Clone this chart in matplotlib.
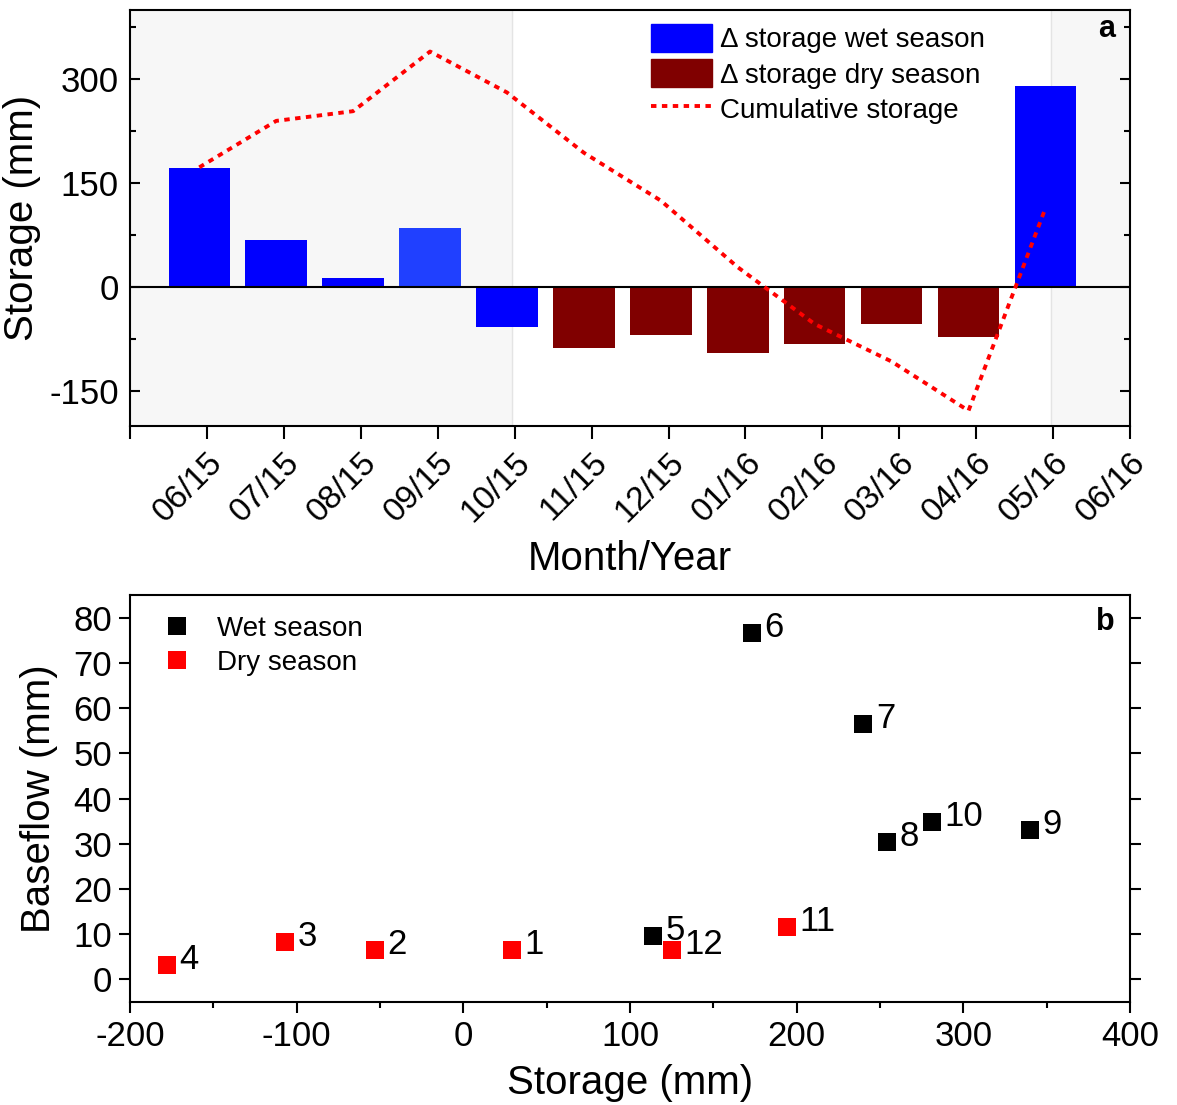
import matplotlib
matplotlib.use('Agg')
import matplotlib.pyplot as plt
from matplotlib.patches import Patch
from matplotlib.lines import Line2D
from matplotlib.ticker import MultipleLocator

plt.rcParams['font.family'] = ['Liberation Sans', 'DejaVu Sans']
plt.rcParams['axes.unicode_minus'] = False

# monthly water balance, June 2015 - May 2016
months = ['06/15', '07/15', '08/15', '09/15', '10/15', '11/15', '12/15',
          '01/16', '02/16', '03/16', '04/16', '05/16', '06/16']
month_num = [6, 7, 8, 9, 10, 11, 12, 1, 2, 3, 4, 5]
delta_storage = [172, 68, 14, 86, -57, -88, -69, -95, -82, -53, -72, 291]
cum_storage = [173, 240, 254, 340, 281, 194, 125, 29, -53, -107, -178, 114]
baseflow = [76.7, 56.4, 30.3, 33.1, 34.9, 11.5, 6.6, 6.4, 6.4, 8.2, 3.1, 9.5]
wet = [True, True, True, True, True, False, False, False, False, False, False, True]

blue = '#0000ff'
maroon = '#800000'
bar_colors = [blue, blue, blue, '#2040ff', blue, maroon, maroon, maroon,
              maroon, maroon, maroon, blue]
dots = (0, (1.4, 1.4))

fig = plt.figure(figsize=(11.77, 11.05), dpi=100)
ax1 = fig.add_axes([0.1105, 0.6145, 0.8496, 0.3765])
ax2 = fig.add_axes([0.1105, 0.0932, 0.8496, 0.3683])

# ---- a: monthly storage change ----
xpos = [i + 0.9 for i in range(len(delta_storage))]
ax1.axvspan(0, 4.96, color='#f7f7f7', zorder=0)
ax1.axvspan(11.97, 13, color='#f7f7f7', zorder=0)
ax1.axvline(4.96, color='#e4e4e4', lw=1, zorder=0.5)
ax1.axvline(11.97, color='#e4e4e4', lw=1, zorder=0.5)
ax1.bar(xpos, delta_storage, width=0.8, color=bar_colors, zorder=2)
ax1.axhline(0, color='black', lw=1.5, zorder=3)
ax1.plot(xpos, cum_storage, color='red', lw=2.8, ls=dots, zorder=4)

ax1.set_xlim(0, 13)
ax1.set_ylim(-200, 400)
ax1.set_xticks(range(14))
ax1.set_xticklabels([''] + months, rotation=45, ha='right', rotation_mode='anchor',
                    fontsize=24)
ax1.tick_params(axis='x', direction='out', length=9, width=1.5, pad=6)
ax1.set_yticks([-150, 0, 150, 300])
ax1.yaxis.set_minor_locator(MultipleLocator(75))
ax1.tick_params(axis='y', which='both', direction='in', left=True, right=True,
                width=1.5, labelsize=25, pad=8)
ax1.tick_params(axis='y', which='major', length=7)
ax1.tick_params(axis='y', which='minor', length=4)
for s in ax1.spines.values():
    s.set_linewidth(1.5)
ax1.set_xlabel('Month/Year', fontsize=29, labelpad=9)
ax1.set_ylabel('Storage (mm)', fontsize=29, labelpad=6)
ax1.text(0.985, 0.99, 'a', transform=ax1.transAxes, ha='right', va='top',
         fontsize=22, fontweight='bold')

handles = [Patch(facecolor=blue, edgecolor=blue),
           Patch(facecolor=maroon, edgecolor=maroon),
           Line2D([], [], color='red', lw=2.8, ls=dots)]
ax1.legend(handles, ['Δ storage wet season', 'Δ storage dry season', 'Cumulative storage'],
           loc='upper left', bbox_to_anchor=(0.521, 0.966), frameon=False,
           fontsize=20, handlelength=2.2, handleheight=1.15, handletextpad=0.3,
           labelspacing=0.22, borderpad=0, borderaxespad=0)

# ---- b: baseflow against cumulative storage ----
for flag, col, lab in [(True, 'black', 'Wet season'), (False, 'red', 'Dry season')]:
    xs = [s for s, w in zip(cum_storage, wet) if w == flag]
    ys = [b for b, w in zip(baseflow, wet) if w == flag]
    ax2.plot(xs, ys, 's', color=col, ms=12.5, mew=0, label=lab, zorder=3)
for s, b, m in zip(cum_storage, baseflow, month_num):
    ax2.annotate(str(m), (s, b), xytext=(9, 4), textcoords='offset points',
                 ha='left', va='center', fontsize=25)

ax2.set_xlim(-200, 400)
ax2.set_ylim(-5, 85)
ax2.xaxis.set_major_locator(MultipleLocator(100))
ax2.xaxis.set_minor_locator(MultipleLocator(50))
ax2.yaxis.set_major_locator(MultipleLocator(10))
ax2.tick_params(axis='x', which='major', direction='out', length=8, width=1.5,
                labelsize=25, pad=5)
ax2.tick_params(axis='x', which='minor', direction='out', length=4, width=1.5)
ax2.tick_params(axis='y', direction='out', length=8, width=1.5, labelsize=25, pad=5)
ax2.tick_params(axis='y', which='major', right=True)
for s in ax2.spines.values():
    s.set_linewidth(1.5)
ax2.set_xlabel('Storage (mm)', fontsize=29, labelpad=8)
ax2.set_ylabel('Baseflow (mm)', fontsize=29, labelpad=11)
ax2.text(0.985, 0.97, 'b', transform=ax2.transAxes, ha='right', va='top',
         fontsize=22, fontweight='bold')
ax2.legend(loc='upper left', bbox_to_anchor=(0.033, 0.948), frameon=False,
           fontsize=20, numpoints=1, handlelength=1.0, handletextpad=0.95,
           labelspacing=0.28, borderpad=0, borderaxespad=0)

fig.savefig('out.png', dpi=100)
